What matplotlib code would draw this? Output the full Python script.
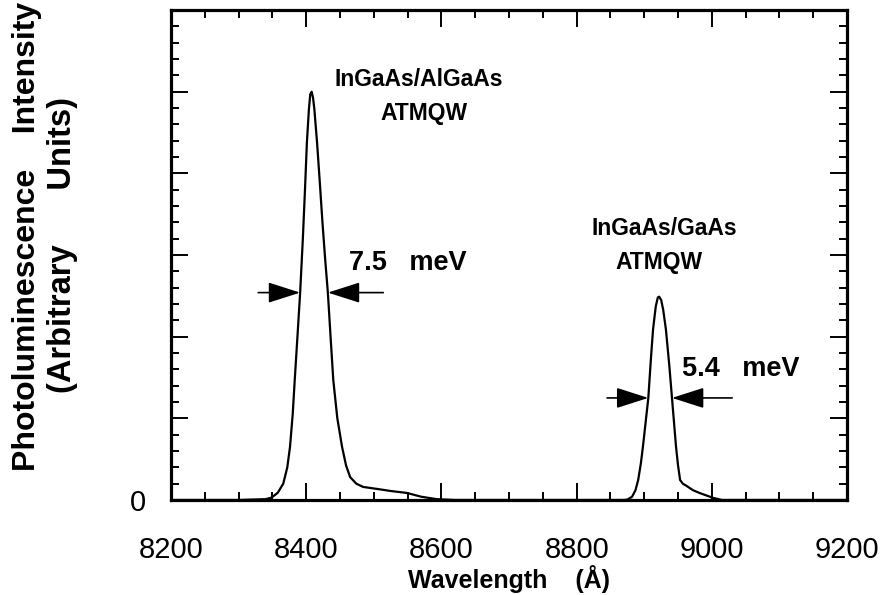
import numpy as np
import matplotlib
matplotlib.use("Agg")
import matplotlib.pyplot as plt
from matplotlib.ticker import FixedLocator, MultipleLocator, FuncFormatter

plt.rcParams['font.family'] = ['Liberation Sans', 'DejaVu Sans']

# PL spectrum (wavelength in Angstrom, intensity in arb. units)
wavelength = [8200, 8300, 8340, 8349, 8358, 8366, 8372, 8376, 8380, 8383, 8387, 8391,
              8395, 8398, 8401, 8404, 8406, 8408, 8410, 8412, 8416, 8420, 8424, 8428,
              8432, 8436, 8440, 8446, 8453, 8459, 8465, 8474, 8484, 8505, 8525, 8549,
              8570, 8593, 8620,
              8870, 8875, 8882, 8887, 8891, 8895, 8898, 8902, 8906, 8910, 8913, 8917,
              8920, 8922, 8925, 8928, 8932, 8937, 8941, 8944, 8947, 8950, 8953, 8957,
              8963, 8972, 8982, 9002, 9015, 9200]
intensity = [0.0, 0.0, 0.01, 0.03, 0.09, 0.2, 0.4, 0.65, 1.05, 1.47, 2.0, 2.54,
             3.2, 3.77, 4.38, 4.79, 4.97, 5.0, 4.93, 4.79, 4.38, 3.9, 3.4, 2.95,
             2.54, 2.0, 1.47, 1.0, 0.65, 0.42, 0.28, 0.2, 0.16, 0.135, 0.11, 0.086,
             0.04, 0.01, 0.0,
             0.0, 0.005, 0.04, 0.12, 0.245, 0.45, 0.65, 0.95, 1.25, 1.75, 2.09, 2.37,
             2.48, 2.49, 2.45, 2.33, 2.09, 1.65, 1.25, 0.95, 0.65, 0.42, 0.245, 0.2,
             0.17, 0.12, 0.085, 0.025, 0.0, 0.0]

# FWHM markers: (left tail, left tip, right tip, right tail, level)
fwhm_1 = (8329, 8391, 8432, 8514, 2.54)
fwhm_2 = (8845, 8906, 8941, 9030, 1.25)

fig = plt.figure(figsize=(8.87, 5.95), dpi=100)
ax = fig.add_axes([0.1928, 0.1597, 0.7622, 0.8233])

ax.plot(wavelength, intensity, color='black', lw=1.6)

ax.set_xlim(8200, 9200)
ax.set_ylim(0, 6)
ax.xaxis.set_major_locator(MultipleLocator(200))
ax.xaxis.set_minor_locator(MultipleLocator(50))
ax.yaxis.set_major_locator(FixedLocator([0, 1, 2, 3, 4, 5, 6]))
ax.yaxis.set_minor_locator(MultipleLocator(0.2))
ax.yaxis.set_major_formatter(FuncFormatter(lambda v, p: '0' if v == 0 else ''))

for s in ax.spines.values():
    s.set_linewidth(2.3)
ax.tick_params(which='both', direction='in', top=True, right=True, width=1.4)
ax.tick_params(which='major', length=12)
ax.tick_params(which='minor', length=6)
ax.tick_params(axis='x', which='major', labelsize=21, pad=26)
ax.tick_params(axis='y', which='major', labelsize=21, pad=18)

ax.set_xlabel('Wavelength    (Å)', fontsize=18, fontweight='bold', labelpad=1)

fig.text(27 / 887, (595 - 471) / 595, 'Photoluminescence    Intensity', rotation=90,
         ha='center', va='bottom', fontsize=23, fontweight='bold')
fig.text(63 / 887, (595 - 393) / 595, '(Arbitrary      Units)', rotation=90,
         ha='center', va='bottom', fontsize=23.5, fontweight='bold')

arrow = dict(arrowstyle='-|>,head_length=1.0,head_width=0.32', color='black',
             lw=1.2, mutation_scale=20, shrinkA=0, shrinkB=0)
for l0, l1, r1, r0, lev in (fwhm_1, fwhm_2):
    ax.annotate('', xy=(l1, lev), xytext=(l0, lev), arrowprops=arrow)
    ax.annotate('', xy=(r1, lev), xytext=(r0, lev), arrowprops=arrow)

lab = dict(fontsize=16.5, fontweight='bold', ha='center', va='center')
ax.text(8566, 5.15, 'InGaAs/AlGaAs', **lab)
ax.text(8574, 4.73, 'ATMQW', **lab)
ax.text(8464, 2.9, '7.5   meV', fontsize=19.5, fontweight='bold', ha='left', va='center')
ax.text(8930, 3.33, 'InGaAs/GaAs', **lab)
ax.text(8922, 2.91, 'ATMQW', **lab)
ax.text(8956, 1.6, '5.4   meV', fontsize=19.5, fontweight='bold', ha='left', va='center')

fig.savefig('out.png', dpi=100)
